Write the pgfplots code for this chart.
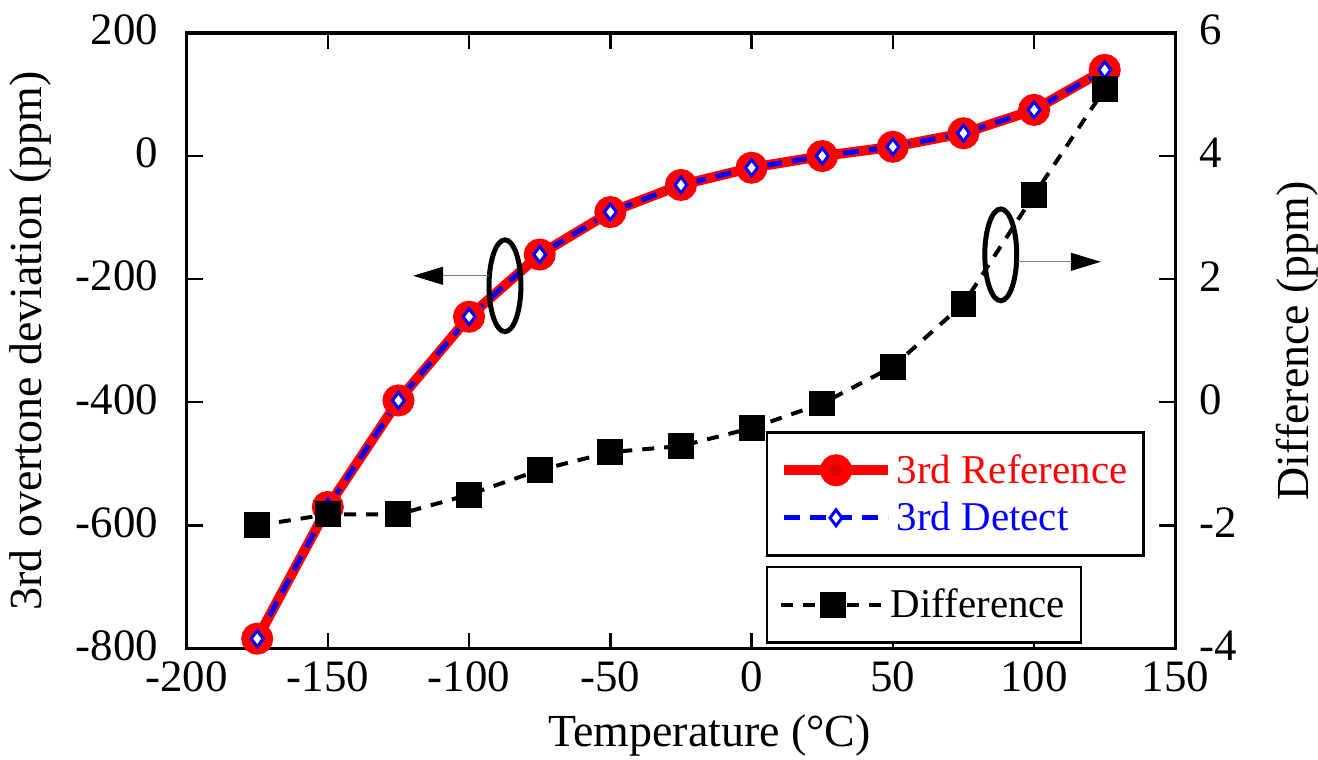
\documentclass[border=0pt]{standalone}
\usepackage{fontspec}
\setmainfont{Liberation Serif}
\usepackage{pgfplots}
\pgfplotsset{compat=1.18}
\usetikzlibrary{arrows.meta}

\begin{document}
\begin{tikzpicture}[font=\fontsize{22.5}{27}\selectfont]
\pgfplotsset{
  every axis/.append style={
    scale only axis, width=495.5pt, height=308.5pt,
    xmin=-200, xmax=150,
    tick align=inside, major tick length=8pt,
    /pgf/number format/assume math mode=true,
    tick style={line width=1.2pt, black},
    axis line style={line width=1.6pt},
    legend cell align=left,
    legend image code/.code={\draw[mark repeat=2,mark phase=2,#1] plot coordinates {(0pt,0pt) (26pt,0pt) (52pt,0pt)};},
    label style={font=\fontsize{23}{27}\selectfont, inner sep=0pt},
    tick label style={inner sep=1pt},
  },
}
\begin{axis}[
  ymin=-800, ymax=200,
  xtick={-200,-150,...,150},
  ytick={-800,-600,...,200},
  ytick pos=left,
  xticklabel pos=bottom,
  xticklabel style={yshift=-5.5pt},
  yticklabel style={xshift=-13pt, yshift=1.5pt},
  xlabel={Temperature (°C)},
  ylabel={3rd overtone deviation (ppm)},
  xlabel style={at={(axis description cs:0.529,-0.141)}, anchor=center},
  ylabel style={at={(axis description cs:-0.158,0.5)}, anchor=center},
  legend style={at={(rel axis cs:0.586,0.353)}, anchor=north west, draw=black, line width=1.2pt,
    inner xsep=6pt, inner ysep=9pt, row sep=4pt, font=\fontsize{20.5}{24}\selectfont},
]
\addplot[red, line width=5pt, mark=*, mark size=5.5pt, mark options={solid, fill=red!88!black, draw=red}]
coordinates {
  (-175,-784) (-150,-570) (-125,-397) (-100,-261) (-75,-160) (-50,-91)
  (-25,-47) (0,-19) (25,0) (50,15) (75,37) (100,75) (125,140)
};
\addlegendentry{\textcolor{red}{3rd Reference}}
\addplot[blue, line width=2.5pt, dash pattern=on 8pt off 5pt, mark=diamond*, mark size=4pt, mark options={solid, fill=white, draw=blue, line width=1.5pt}]
coordinates {
  (-175,-784) (-150,-570) (-125,-397) (-100,-261) (-75,-160) (-50,-91)
  (-25,-47) (0,-19) (25,0) (50,15) (75,37) (100,75) (125,140)
};
\addlegendentry{\textcolor{blue}{3rd Detect}}
\draw[line width=2.5pt] (axis cs:-87.3,-210.7) ellipse [x radius=8pt, y radius=23pt];
\draw[gray, line width=0.5pt, -{Triangle[length=15pt,width=9pt,color=black]}] (axis cs:-93,-194.5) -- (axis cs:-119.8,-194.5);
\draw[line width=2.5pt] (axis cs:88.2,-160.5) ellipse [x radius=8pt, y radius=23pt];
\draw[gray, line width=0.5pt, -{Triangle[length=15pt,width=9pt,color=black]}] (axis cs:94.2,-171.8) -- (axis cs:123.6,-171.8);
\end{axis}
\begin{axis}[
  ymin=-4, ymax=6,
  ytick={-4,-2,...,6},
  axis y line*=right,
  axis x line=none,
  yticklabel style={xshift=11pt, yshift=1.5pt},
  ylabel={Difference (ppm)},
  ylabel style={at={(axis description cs:1.123,0.5)}, anchor=center},
  legend style={at={(rel axis cs:0.586,0.1345)}, anchor=north west, draw=black, line width=1.2pt,
    inner xsep=6pt, inner ysep=9pt, font=\fontsize{20.5}{24}\selectfont},
]
\addplot[black, line width=2pt, dash pattern=on 6pt off 5pt, mark=square*, mark size=5.5pt, mark options={solid}]
coordinates {
  (-175,-2.0) (-150,-1.82) (-125,-1.82) (-100,-1.5) (-75,-1.1) (-50,-0.81)
  (-25,-0.71) (0,-0.42) (25,-0.02) (50,0.58) (75,1.6) (100,3.37) (125,5.09)
};
\addlegendentry{Difference}
\end{axis}
\path (current axis.south west) ++(-93.5pt,-55.5pt) rectangle ++(659pt,380.5pt);
\end{tikzpicture}
\end{document}
